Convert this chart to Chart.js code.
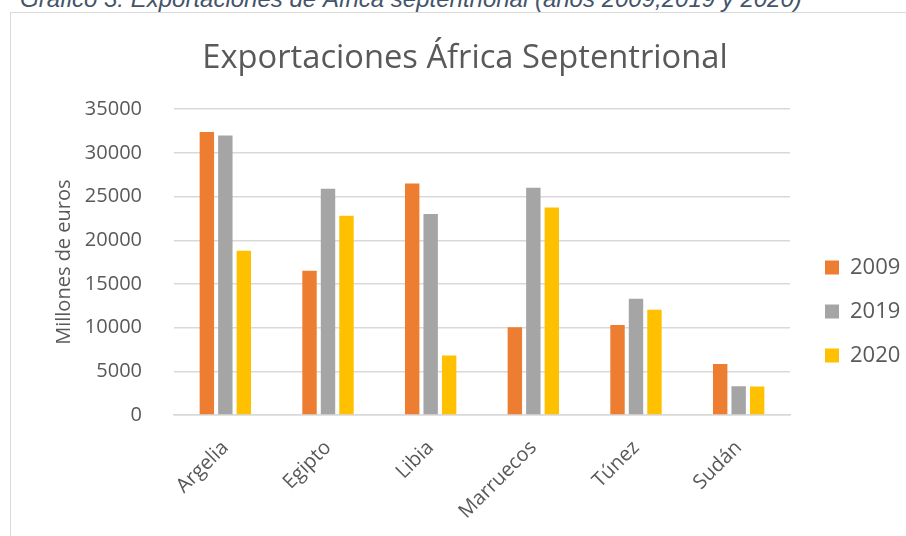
<!DOCTYPE html>
<html>
<head>
<meta charset="utf-8">
<script src="https://cdn.jsdelivr.net/npm/chart.js@4.4.1/dist/chart.umd.min.js"></script>
<style>
  body { margin: 0; width: 906px; height: 536px; overflow: hidden; background: #fff; position: relative; }
  #caption { position: absolute; left: 20px; top: -15px; font: italic 24px "Liberation Sans", Arial, sans-serif; color: #44546a; white-space: nowrap; }
  #frame { position: absolute; left: 10px; top: 12px; width: 1000px; height: 1000px; border: 1px solid #d9d9d9; }
  #wrap { position: absolute; left: 0; top: 0; width: 906px; height: 536px; }
</style>
</head>
<body>
<div id="caption">Gráfico 3: Exportaciones de África septentrional (años 2009,2019 y 2020)</div>
<div id="frame"></div>
<div id="wrap"><canvas id="chartBar"></canvas></div>
<script>
// datos (millones de euros)
let paises = ["Argelia", "Egipto", "Libia", "Marruecos", "Túnez", "Sudán"];
let anios = ["2009", "2019", "2020"];
let exp2009 = [32400, 16500, 26500, 10050, 10300, 5850];
let exp2019 = [32000, 25900, 23000, 26000, 13300, 3300];
let exp2020 = [18800, 22800, 6800, 23750, 12050, 3250];
let colores = ["#ED7D31", "#A5A5A5", "#FFC000"];

let textColor = "#595959";
let font = "'Open Sans', sans-serif";

// coloca la leyenda como en Excel
const legendPlace = {
  id: "legendPlace",
  beforeInit(chart) {
    const fit = chart.legend.fit.bind(chart.legend);
    chart.legend.fit = function () {
      fit();
      this.width = 116;
    };
  },
  afterLayout(chart) {
    chart.legend.left += 13;
    chart.legend.top += 25;
    chart.legend.bottom += 25;
  },
};

let series = [exp2009, exp2019, exp2020];
let dataBar = {
  labels: paises,
  datasets: series.map((s, i) => ({
    label: anios[i],
    data: s,
    backgroundColor: colores[i],
    borderWidth: 0,
    categoryPercentage: 0.54,
    barPercentage: 0.78,
  })),
};

const configBar = {
  type: "bar",
  data: dataBar,
  options: {
    responsive: false,
    animation: false,
    devicePixelRatio: 1,
    layout: { padding: { left: 24, right: 0, top: 37, bottom: 0 } },
    plugins: {
      title: {
        display: true,
        text: "Exportaciones África Septentrional",
        color: textColor,
        font: { family: font, size: 32.7, weight: "normal" },
        padding: { top: 2, bottom: 31 },
      },
      legend: {
        position: "right",
        align: "center",
        labels: {
          color: textColor,
          font: { family: font, size: 22 },
          boxWidth: 14,
          boxHeight: 14,
          padding: 22,
        },
      },
      tooltip: { enabled: false },
    },
    scales: {
      x: {
        grid: { display: false },
        border: { display: true, color: "#d9d9d9", width: 1.5 },
        ticks: {
          color: textColor,
          font: { family: font, size: 20 },
          minRotation: 45,
          maxRotation: 45,
          padding: 13,
        },
        afterFit(scale) {
          scale.height = 121;
        },
      },
      y: {
        min: 0,
        max: 35000,
        ticks: {
          stepSize: 5000,
          color: textColor,
          font: { family: font, size: 20 },
          padding: 32,
          callback: (v) => String(v),
        },
        grid: { color: "#d9d9d9", lineWidth: 1.5, drawTicks: false },
        border: { display: false },
        title: {
          display: true,
          text: "Millones de euros",
          color: textColor,
          font: { family: font, size: 20 },
          padding: { top: 28, bottom: 4 },
        },
        afterFit(scale) {
          scale.width = 150;
        },
      },
    },
  },
  plugins: [legendPlace],
};

let canvas = document.getElementById("chartBar");
canvas.width = 906;
canvas.height = 536;
var chartBar = new Chart(canvas, configBar);
</script>
</body>
</html>
